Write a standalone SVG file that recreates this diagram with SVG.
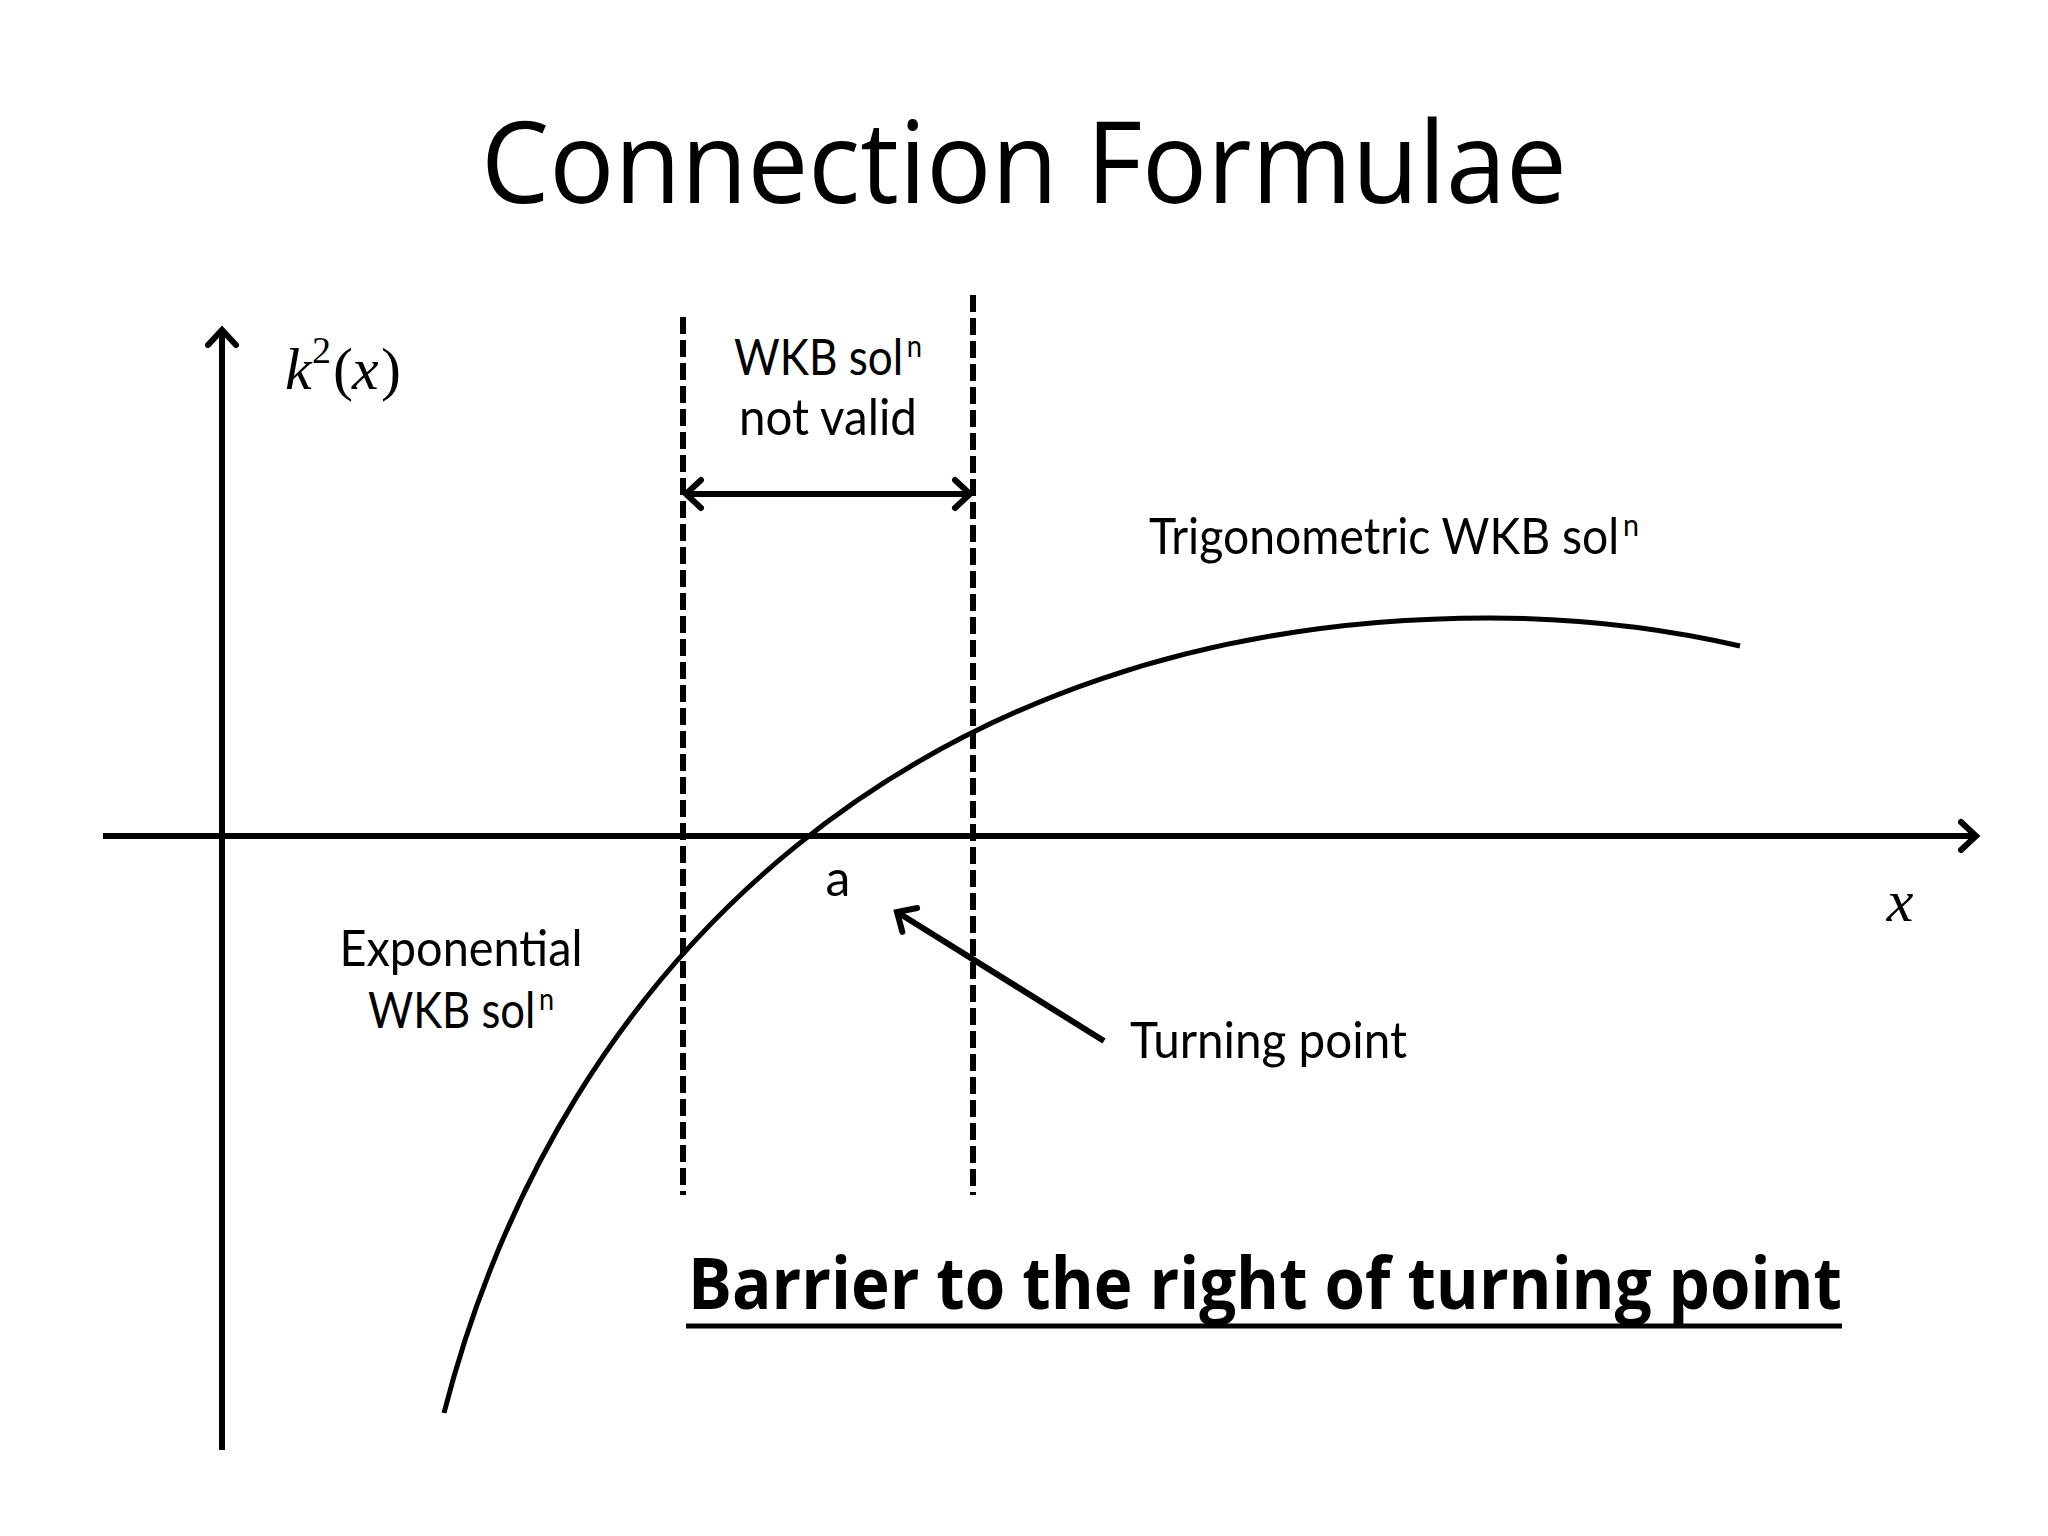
<svg xmlns="http://www.w3.org/2000/svg" width="2048" height="1536" viewBox="0 0 2048 1536">
<style>
.t{font-family:"Open Sans","Liberation Sans",sans-serif;fill:#000}
.b{font-family:Lato,"Open Sans",sans-serif;font-size:50px}
.sup{font-size:31px}
.m{font-family:"Liberation Serif","DejaVu Serif",serif;font-size:60px;fill:#000}
.ln{stroke:#000;fill:none;stroke-width:6}
.ds{stroke:#000;fill:none;stroke-width:6;stroke-dasharray:17 6}
</style>
<defs>
<marker id="chev" markerUnits="userSpaceOnUse" markerWidth="40" markerHeight="40" refX="20" refY="20" orient="auto-start-reverse" overflow="visible">
<path d="M5,6 L20,20 L5,34" stroke="#000" stroke-width="6" fill="none" stroke-linecap="round" stroke-linejoin="miter"/>
</marker>
</defs>
<rect width="2048" height="1536" fill="#fff"/>
<g id="title"><text class="t" x="1024" y="203" font-size="113" text-anchor="middle" textLength="1086" lengthAdjust="spacingAndGlyphs">Connection Formulae</text></g>
<g id="connectors">
<line id="y-axis" class="ln" x1="222" y1="1450" x2="222" y2="330" marker-end="url(#chev)"/>
<line id="x-axis" class="ln" x1="103" y1="836" x2="1976" y2="836" marker-end="url(#chev)"/>
<line id="dash-left" class="ds" x1="683" y1="317" x2="683" y2="1195"/>
<line id="dash-right" class="ds" x1="973" y1="295" x2="973" y2="1195"/>
<line id="span-arrow" class="ln" x1="686" y1="494" x2="970" y2="494" marker-start="url(#chev)" marker-end="url(#chev)"/>
<line id="turning-arrow" class="ln" x1="1104" y1="1041" x2="897" y2="912" marker-end="url(#chev)"/>
<path id="curve" stroke="#000" fill="none" stroke-width="5" d="M444,1413 C560,960 920,618 1489,618 C1590,618 1670,630 1740,646"/>
</g>
<g id="k2x-label"><text class="m" y="389"><tspan x="285" font-style="italic">k</tspan><tspan x="312" font-size="38" dy="-26">2</tspan><tspan x="333" dy="26">(</tspan><tspan x="352" font-style="italic">x</tspan><tspan x="381">)</tspan></text></g>
<g id="not-valid-label">
<text class="b" x="828" y="375" text-anchor="middle" textLength="188" lengthAdjust="spacingAndGlyphs">WKB sol<tspan class="sup" dx="4" dy="-18">n</tspan></text>
<text class="b" x="828" y="435" text-anchor="middle" textLength="178" lengthAdjust="spacingAndGlyphs">not valid</text>
</g>
<g id="trig-label"><text class="b" x="1149" y="554" textLength="490" lengthAdjust="spacingAndGlyphs">Trigonometric WKB sol<tspan class="sup" dx="4" dy="-18">n</tspan></text></g>
<g id="exp-label">
<text class="b" x="461" y="966" text-anchor="middle" textLength="243" lengthAdjust="spacingAndGlyphs">Exponential</text>
<text class="b" x="461" y="1028" text-anchor="middle" textLength="186" lengthAdjust="spacingAndGlyphs">WKB sol<tspan class="sup" dx="4" dy="-18">n</tspan></text>
</g>
<g id="a-label"><text class="b" x="838" y="896" text-anchor="middle">a</text></g>
<g id="x-label"><text class="m" x="1900" y="921" font-style="italic" text-anchor="middle">x</text></g>
<g id="turning-label"><text class="b" x="1130" y="1058" textLength="277" lengthAdjust="spacingAndGlyphs">Turning point</text></g>
<g id="barrier-label">
<text class="t" x="688" y="1309" font-size="71" font-weight="bold" textLength="1154" lengthAdjust="spacingAndGlyphs">Barrier to the right of turning point</text>
<line x1="686" y1="1326" x2="1842" y2="1326" stroke="#000" stroke-width="5"/>
</g>
</svg>
